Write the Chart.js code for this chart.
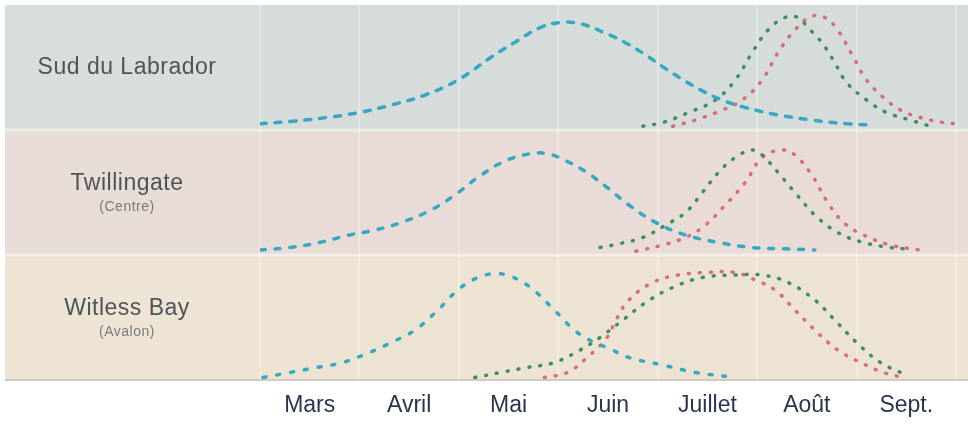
<!DOCTYPE html>
<html>
<head>
<meta charset="utf-8">
<script src="https://cdn.jsdelivr.net/npm/chart.js@4.4.1/dist/chart.umd.min.js"></script>
<style>
  html, body { margin: 0; padding: 0; background: #fff; }
  canvas { display: block; }
</style>
</head>
<body>
<canvas id="runChart" width="968" height="425"></canvas>
<script>
// Mois (axe X : 0 = 1er mars, 7 = fin septembre)
const months = ['Mars', 'Avril', 'Mai', 'Juin', 'Juillet', 'Août', 'Sept.'];

// Régions, du haut vers le bas
const regions = ['Sud du Labrador', 'Twillingate', 'Witless Bay'];
const regionNotes = ['', '(Centre)', '(Avalon)'];

// Courbes : [mois, hauteur en % de la bande]
const labradorBlue = [[0, 5], [0.33, 7], [0.67, 10], [1.0, 14], [1.32, 20], [1.66, 28], [1.99, 40], [2.32, 58], [2.56, 70], [2.82, 82], [3.02, 86], [3.22, 85], [3.46, 78], [3.67, 70], [3.88, 60], [4.08, 49], [4.28, 39], [4.48, 30], [4.68, 23], [4.88, 18], [5.21, 12], [5.55, 8], [5.9, 5], [6.17, 4]];
const labradorGreen = [[3.85, 3], [4.05, 6], [4.31, 14], [4.58, 24], [4.78, 40], [4.95, 62], [5.11, 80], [5.28, 90], [5.41, 90], [5.51, 82], [5.65, 70], [5.78, 54], [5.9, 38], [6.1, 24], [6.3, 14], [6.54, 8], [6.74, 3]];
const labradorRed = [[4.15, 3], [4.38, 8], [4.65, 16], [4.85, 24], [5.05, 40], [5.21, 62], [5.38, 80], [5.55, 91], [5.68, 90], [5.81, 80], [5.97, 58], [6.1, 40], [6.27, 26], [6.44, 16], [6.64, 10], [6.87, 6], [7.0, 5]];

const twillBlue = [[0, 4], [0.3, 6], [0.6, 10], [0.9, 16], [1.16, 20], [1.42, 26], [1.72, 36], [1.96, 48], [2.19, 62], [2.46, 75], [2.72, 81], [2.89, 81], [3.06, 76], [3.29, 66], [3.49, 54], [3.71, 40], [3.98, 26], [4.28, 16], [4.61, 10], [4.95, 6], [5.28, 5], [5.58, 4]];
const twillGreen = [[3.42, 6], [3.61, 9], [3.85, 14], [4.08, 24], [4.28, 34], [4.45, 50], [4.61, 66], [4.78, 78], [4.95, 84], [5.05, 80], [5.21, 66], [5.38, 50], [5.58, 32], [5.81, 18], [6.07, 10], [6.34, 6], [6.47, 5]];
const twillRed = [[3.78, 3], [4.05, 8], [4.28, 14], [4.48, 24], [4.68, 40], [4.88, 58], [5.05, 78], [5.25, 84], [5.38, 80], [5.55, 64], [5.71, 42], [5.87, 26], [6.07, 16], [6.34, 8], [6.64, 4]];

const witlessBlue = [[0.03, 2], [0.3, 6], [0.57, 10], [0.83, 14], [1.1, 22], [1.32, 30], [1.56, 40], [1.79, 56], [1.99, 72], [2.19, 82], [2.36, 85], [2.52, 83], [2.72, 74], [2.96, 56], [3.16, 40], [3.36, 30], [3.49, 26], [3.71, 18], [4.05, 12], [4.38, 6], [4.68, 3]];
const witlessGreen = [[2.16, 2], [2.42, 6], [2.69, 10], [2.96, 14], [3.22, 24], [3.42, 34], [3.65, 48], [3.88, 62], [4.15, 74], [4.45, 82], [4.78, 84], [5.05, 84], [5.31, 78], [5.58, 64], [5.78, 48], [6.0, 30], [6.24, 14], [6.5, 4]];
const witlessRed = [[2.86, 2], [3.09, 6], [3.29, 18], [3.49, 34], [3.58, 48], [3.71, 64], [3.95, 78], [4.21, 84], [4.48, 86], [4.78, 86], [4.98, 80], [5.18, 72], [5.38, 56], [5.58, 40], [5.81, 24], [6.04, 14], [6.27, 6], [6.47, 2]];

const BLUE = '#35a8c2';
const GREEN = '#3e8f5c';
const RED = '#d96b7a';

// fonds des bandes (haut -> bas) : colonne des noms / zone du graphique
const bandFills = [
    { left: '#d8ded9', right: '#d6dcd9' },
    { left: '#e7dcd6', right: '#e9dbd6' },
    { left: '#ede4d6', right: '#ece3d3' }
];

// une bande = 1 unité sur l'axe Y ; index 0 en haut
function toPoints(curve, band) {
    const base = regions.length - 1 - band;
    return curve.map(p => ({ x: p[0], y: base + p[1] / 100 }));
}

function curveStyle(curve, band, color, dash) {
    return {
        data: toPoints(curve, band),
        borderColor: color,
        borderWidth: 3.5,
        borderDash: dash,
        borderCapStyle: 'round',
        pointRadius: 0,
        fill: false,
        tension: 0.4
    };
}

const bandsPlugin = {
    id: 'bands',
    beforeDraw(chart) {
        const { ctx, chartArea, scales: { y } } = chart;
        ctx.save();
        bandFills.forEach((c, i) => {
            const top = y.getPixelForValue(regions.length - i);
            const bottom = y.getPixelForValue(regions.length - 1 - i);
            ctx.fillStyle = c.right;
            ctx.fillRect(5, top, chart.width - 5, bottom - top);
            ctx.fillStyle = c.left;
            ctx.fillRect(5, top, chartArea.left - 8, bottom - top);
            if (i > 0) {
                ctx.fillStyle = 'rgba(255,255,255,0.45)';
                ctx.fillRect(5, top - 1.5, chart.width - 5, 3);
            }
        });
        ctx.restore();
    },
    beforeDatasetsDraw(chart) {
        const { ctx, chartArea } = chart;
        ctx.save();
        ctx.strokeStyle = '#cfcac2';
        ctx.lineWidth = 2;
        ctx.beginPath();
        ctx.moveTo(5, chartArea.bottom);
        ctx.lineTo(chart.width, chartArea.bottom);
        ctx.stroke();
        ctx.restore();
    },
    afterDraw(chart) {
        const { ctx, scales: { y } } = chart;
        ctx.save();
        ctx.textAlign = 'center';
        ctx.textBaseline = 'middle';
        regions.forEach((name, i) => {
            const top = y.getPixelForValue(regions.length - i);
            const bottom = y.getPixelForValue(regions.length - 1 - i);
            const mid = (top + bottom) / 2;
            const note = regionNotes[i];
            ctx.fillStyle = '#4f5456';
            ctx.letterSpacing = '0.5px';
            ctx.font = '23px "Liberation Sans", Arial, sans-serif';
            ctx.fillText(name, 127, note ? mid - 9 : mid);
            if (note) {
                ctx.fillStyle = '#7a7b7b';
                ctx.letterSpacing = '0.5px';
                ctx.font = '14px "Liberation Sans", Arial, sans-serif';
                ctx.fillText(note, 127, mid + 15);
            }
        });
        ctx.restore();
    }
};

const datasets = [
    curveStyle(labradorBlue, 0, BLUE, [6, 9]),
    curveStyle(labradorGreen, 0, GREEN, [1, 10]),
    curveStyle(labradorRed, 0, RED, [1, 10]),
    curveStyle(twillBlue, 1, BLUE, [5, 10]),
    curveStyle(twillGreen, 1, GREEN, [1, 10]),
    curveStyle(twillRed, 1, RED, [1, 10]),
    curveStyle(witlessBlue, 2, BLUE, [3, 11]),
    curveStyle(witlessGreen, 2, GREEN, [1, 10]),
    curveStyle(witlessRed, 2, RED, [1, 10])
];

new Chart(document.getElementById('runChart'), {
    type: 'line',
    data: { datasets },
    plugins: [bandsPlugin],
    options: {
        responsive: false,
        animation: false,
        layout: { padding: { left: 260, right: 5, top: 5 } },
        plugins: { legend: { display: false }, tooltip: { enabled: false } },
        scales: {
            x: {
                type: 'linear',
                min: 0,
                max: months.length,
                afterFit(scale) { scale.height = 45; },
                border: { display: false },
                grid: {
                    drawTicks: false,
                    lineWidth: 2,
                    color: c => (c.tick && c.tick.value % 1 === 0) ? 'rgba(255,255,255,0.3)' : 'rgba(0,0,0,0)'
                },
                ticks: {
                    stepSize: 0.5,
                    autoSkip: false,
                    maxRotation: 0,
                    padding: 12,
                    color: '#2b3550',
                    font: { family: '"Liberation Sans", Arial, sans-serif', size: 23 },
                    callback: v => (v % 1 === 0.5) ? months[Math.floor(v)] : ''
                }
            },
            y: {
                display: false,
                min: 0,
                max: regions.length
            }
        }
    }
});
</script>
</body>
</html>
